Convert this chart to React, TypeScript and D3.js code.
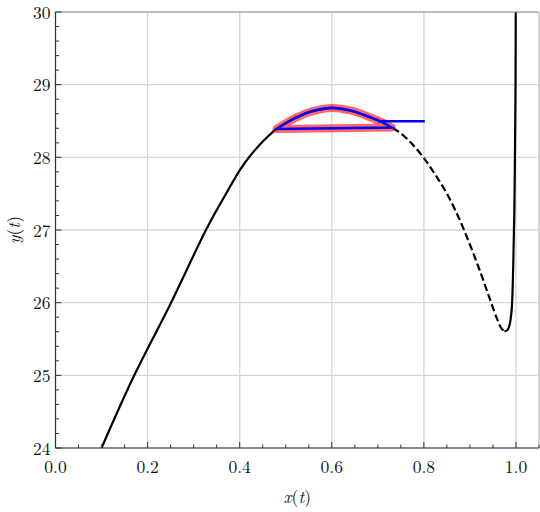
import React from "react";
import * as d3 from "d3";

const W = 540;
const H = 512;

// Solid (stable) branch from bottom up to the fold peak
const branchLowX = [0.1, 0.171, 0.251, 0.3267, 0.365, 0.4, 0.42, 0.44, 0.46, 0.48, 0.52, 0.555, 0.6];
const branchLowY = [24.0, 25.0, 26.0, 27.0, 27.44, 27.82, 28.0, 28.15, 28.28, 28.39, 28.54, 28.63, 28.68];

// Dashed (unstable) branch from peak to the minimum
const branchMidX = [0.6, 0.64, 0.68, 0.71, 0.73, 0.75, 0.775, 0.8, 0.825, 0.85, 0.875, 0.9, 0.925, 0.945, 0.96, 0.968, 0.975];
const branchMidY = [28.68, 28.645, 28.56, 28.48, 28.41, 28.33, 28.18, 27.99, 27.76, 27.5, 27.18, 26.8, 26.38, 26.02, 25.76, 25.65, 25.605];

// Solid (stable) branch from the minimum upward
const branchHighX = [0.975, 0.981, 0.986, 0.9906, 0.994, 0.9965, 0.998, 0.999, 0.9996];
const branchHighY = [25.605, 25.62, 25.69, 25.9, 26.5, 27.3, 28.2, 29.0, 30.3];

// Highlighted loop (red) and its blue outline
const loopX = [0.48, 0.52, 0.555, 0.6, 0.64, 0.68, 0.71, 0.73, 0.48];
const loopY = [28.39, 28.54, 28.63, 28.68, 28.645, 28.56, 28.48, 28.41, 28.39];
const blueSegX = [0.7, 0.802];
const blueSegY = [28.497, 28.497];

const xTicks = [0, 0.2, 0.4, 0.6, 0.8, 1.0];
const xTickLabels = ["0.0", "0.2", "0.4", "0.6", "0.8", "1.0"];
const yTicks = [24, 25, 26, 27, 28, 29, 30];
const yTickLabels = ["24", "25", "26", "27", "28", "29", "30"];

const zip = (xs: number[], ys: number[]) => xs.map((x, i) => [x, ys[i]] as [number, number]);

export default function App() {
  const left = 55.5, right = 539, top = 12, bottom = 448;
  const x = d3.scaleLinear().domain([0, 1.05]).range([left, right]);
  const y = d3.scaleLinear().domain([24, 30]).range([bottom, top]);

  const smooth = d3
    .line<[number, number]>()
    .x((d) => x(d[0]))
    .y((d) => y(d[1]))
    .curve(d3.curveCatmullRom.alpha(0.5));
  const straight = d3
    .line<[number, number]>()
    .x((d) => x(d[0]))
    .y((d) => y(d[1]));

  const loopPts = zip(loopX, loopY);
  const arcPts = loopPts.slice(0, loopPts.length - 1);
  const loopPath = smooth(arcPts) + "L" + x(loopX[loopX.length - 1]) + "," + y(loopY[loopY.length - 1]) + "Z";

  const xMinor = d3.range(0, 1.0501, 0.05);
  const yMinor = d3.range(24, 30.001, 0.2);
  const txt = { fontFamily: '"Latin Modern Roman"' };
  const fs = 17.5;

  return (
    <div style={{ position: "fixed", left: 0, top: 0 }}>
      <svg width={W} height={H} style={{ display: "block", background: "#fff" }}>
        <defs>
          <clipPath id="plotclip">
            <rect x={left} y={top} width={right - left} height={bottom - top} />
          </clipPath>
        </defs>
        {/* grid */}
        {xTicks.map((t) => (
          <line key={"gx" + t} x1={x(t)} x2={x(t)} y1={top} y2={bottom} stroke="#d6d6d6" strokeWidth={1.3} />
        ))}
        {yTicks.map((t) => (
          <line key={"gy" + t} x1={left} x2={right} y1={y(t)} y2={y(t)} stroke="#d6d6d6" strokeWidth={1.3} />
        ))}
        <g clipPath="url(#plotclip)">
          <path d={smooth(zip(branchLowX, branchLowY)) || ""} fill="none" stroke="#000" strokeWidth={2.2} />
          <path d={smooth(zip(branchMidX, branchMidY)) || ""} fill="none" stroke="#000" strokeWidth={2.2} strokeDasharray="7.4,3.4" />
          <path d={smooth(zip(branchHighX, branchHighY)) || ""} fill="none" stroke="#000" strokeWidth={2.2} />
          <path d={loopPath} fill="none" stroke="#ff0000" strokeOpacity={0.6} strokeWidth={8} strokeLinejoin="round" strokeLinecap="round" />
          <path d={loopPath} fill="none" stroke="#0000ff" strokeWidth={2.6} strokeLinejoin="miter" />
          <path d={straight(zip(blueSegX, blueSegY)) || ""} fill="none" stroke="#0000ff" strokeWidth={2.6} />
        </g>
        {/* spines */}
        <line x1={left} x2={right} y1={top} y2={top} stroke="#9a9a9a" strokeWidth={1.2} />
        <line x1={right} x2={right} y1={top} y2={bottom} stroke="#bdbdbd" strokeWidth={1.2} />
        <line x1={left} x2={left} y1={top} y2={bottom} stroke="#333" strokeWidth={1.2} />
        <line x1={left} x2={right} y1={bottom} y2={bottom} stroke="#333" strokeWidth={1.2} />
        {/* ticks */}
        {xMinor.map((t, i) => (
          <line key={"xm" + i} x1={x(t)} x2={x(t)} y1={bottom} y2={bottom - (i % 4 === 0 ? 6 : 3.5)} stroke="#333" strokeWidth={1} />
        ))}
        {yMinor.map((t, i) => (
          <line key={"ym" + i} x1={left} x2={left + (i % 5 === 0 ? 6 : 3.5)} y1={y(t)} y2={y(t)} stroke="#333" strokeWidth={1} />
        ))}
        {/* tick labels */}
        {xTicks.map((t, i) => (
          <text key={"xl" + t} x={x(t)} y={473} textAnchor="middle" style={txt} fontSize={fs} fill="#111">
            {xTickLabels[i]}
          </text>
        ))}
        {yTicks.map((t, i) => (
          <text key={"yl" + t} x={50.5} y={y(t) + 6.5} textAnchor="end" style={txt} fontSize={fs} fill="#111">
            {yTickLabels[i]}
          </text>
        ))}
        {/* axis labels */}
        <text x={(left + right) / 2} y={503} textAnchor="middle" style={txt} fontSize={fs} fill="#111">
          <tspan fontStyle="italic">x</tspan>(<tspan fontStyle="italic">t</tspan>)
        </text>
        <text transform={`translate(19.5,${(top + bottom) / 2}) rotate(-90)`} textAnchor="middle" style={txt} fontSize={fs} fill="#111">
          <tspan fontStyle="italic">y</tspan>(<tspan fontStyle="italic">t</tspan>)
        </text>
      </svg>
    </div>
  );
}
